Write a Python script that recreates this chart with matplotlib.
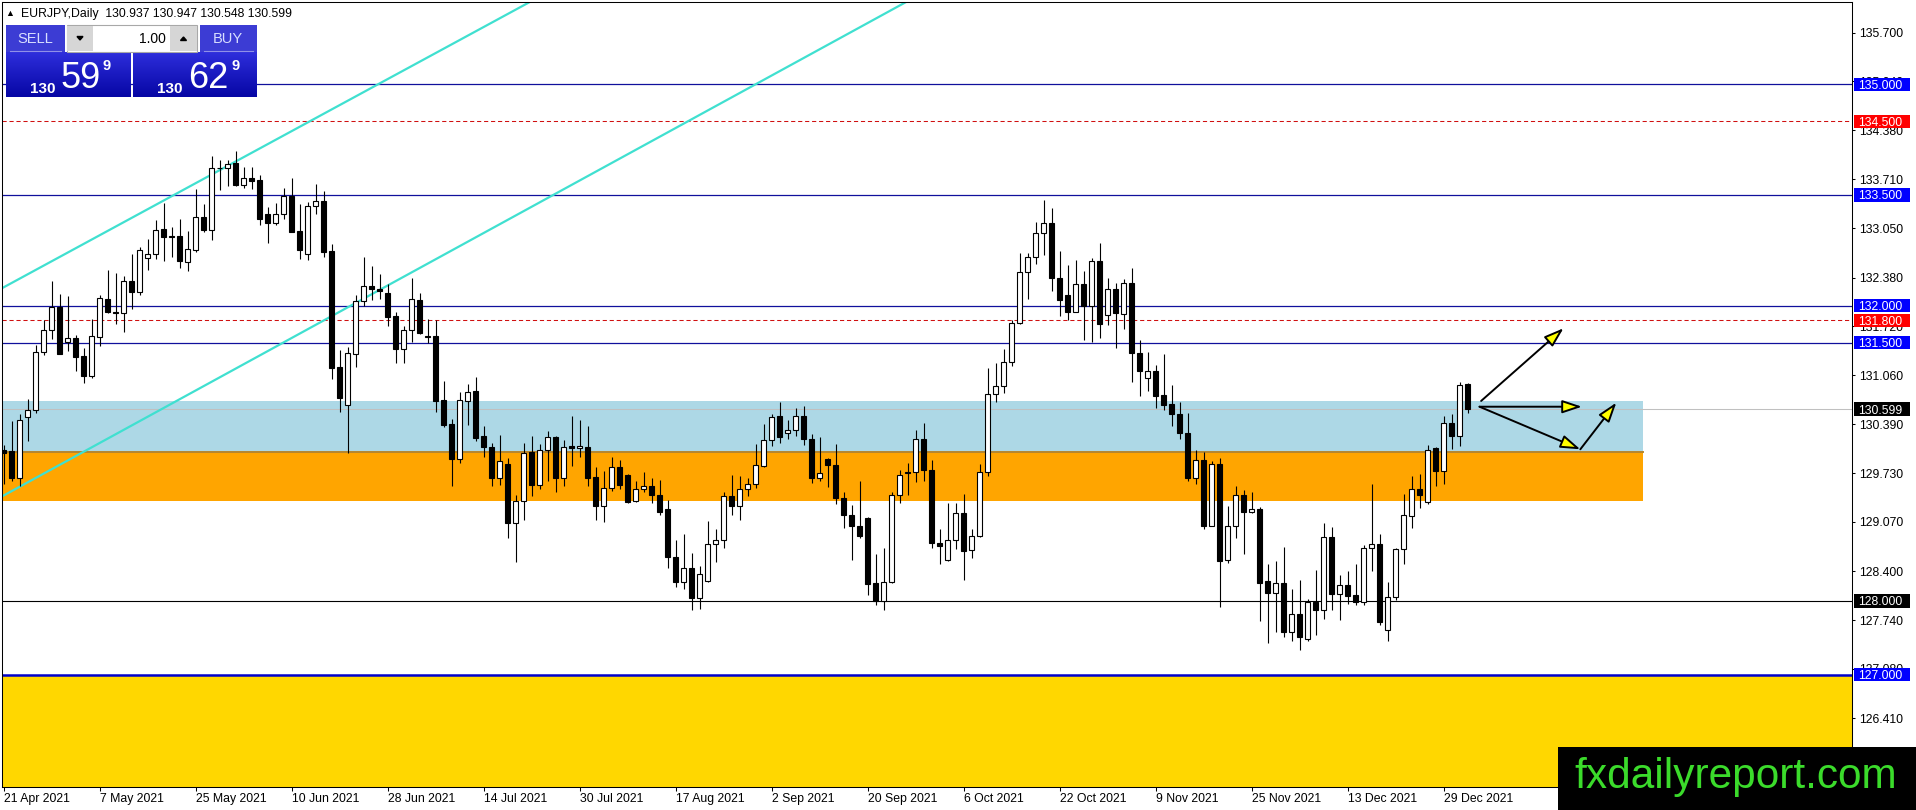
import numpy as np
import matplotlib
matplotlib.use("Agg")
import matplotlib.pyplot as plt
from matplotlib.patches import Rectangle, FancyArrowPatch, Polygon
from matplotlib.transforms import blended_transform_factory
from matplotlib.colors import LinearSegmentedColormap

plt.rcParams['font.family'] = ['Liberation Sans', 'DejaVu Sans']

symbol = "EURJPY,Daily"
date_labels = ['21 Apr 2021', '7 May 2021', '25 May 2021', '10 Jun 2021', '28 Jun 2021',
               '14 Jul 2021', '30 Jul 2021', '17 Aug 2021', '2 Sep 2021', '20 Sep 2021',
               '6 Oct 2021', '22 Oct 2021', '9 Nov 2021', '25 Nov 2021', '13 Dec 2021',
               '29 Dec 2021']

# daily candles (bar 0 = 21 Apr 2021)
opens = [130.05, 130.03, 129.66, 130.49, 130.58, 131.37, 131.67, 131.98, 131.51, 131.56,
         131.32, 131.05, 131.57, 132.09, 131.91, 131.90, 132.34, 132.19, 132.64, 132.70,
         133.04, 132.94, 132.94, 132.59, 132.76, 133.20, 133.02, 133.87, 133.86, 133.93,
         133.63, 133.73, 133.70, 133.24, 133.12, 133.24, 133.49, 133.01, 132.70, 133.35,
         133.42, 132.74, 131.17, 130.65, 131.34, 132.06, 132.27, 132.22, 132.17, 131.86,
         131.41, 131.67, 132.08, 131.59, 131.59, 130.72, 130.40, 129.92, 130.71, 130.84,
         130.23, 130.09, 129.67, 129.86, 129.06, 129.36, 130.02, 129.57, 130.05, 130.22,
         129.66, 130.10, 130.07, 130.08, 129.68, 129.28, 129.53, 129.81, 129.71, 129.35,
         129.52, 129.56, 129.44, 129.25, 128.59, 128.25, 128.45, 128.04, 128.27, 128.77,
         128.82, 129.42, 129.29, 129.51, 129.58, 129.83, 130.18, 130.50, 130.28, 130.32,
         130.50, 130.19, 129.66, 129.92, 129.84, 129.39, 129.16, 129.02, 129.12, 128.24,
         128.00, 128.25, 129.43, 129.74, 129.74, 130.20, 129.78, 128.79, 128.55, 128.83,
         129.19, 128.69, 128.88, 129.74, 130.81, 130.91, 131.24, 131.76, 132.45, 132.66,
         132.98, 133.12, 132.38, 132.14, 131.92, 132.30, 132.00, 132.60, 131.87, 132.22,
         131.89, 132.31, 131.36, 131.02, 131.12, 130.79, 130.67, 130.53, 130.28, 129.66,
         129.91, 129.02, 129.85, 128.56, 129.02, 129.43, 129.20, 129.24, 128.27, 128.11,
         128.24, 127.58, 127.82, 127.49, 127.99, 127.87, 128.86, 128.09, 128.22, 128.08,
         127.99, 128.71, 128.77, 127.61, 128.05, 128.70, 129.15, 129.51, 129.34, 130.07,
         129.76, 130.41, 130.24, 130.937]
highs = [130.11, 130.44, 130.53, 130.73, 131.47, 131.80, 132.34, 132.16, 132.13, 131.60,
         131.42, 131.82, 132.15, 132.49, 132.44, 132.40, 132.70, 132.80, 132.91, 133.16,
         133.39, 133.06, 133.17, 133.01, 133.58, 133.38, 134.03, 133.97, 133.98, 134.10,
         133.88, 133.88, 133.77, 133.34, 133.39, 133.59, 133.73, 133.38, 133.41, 133.65,
         133.55, 132.83, 131.40, 131.44, 132.15, 132.66, 132.54, 132.43, 132.30, 131.91,
         131.72, 132.38, 132.17, 131.82, 131.81, 130.98, 130.47, 130.83, 130.94, 131.03,
         130.37, 130.14, 130.25, 129.93, 129.43, 130.14, 130.24, 130.13, 130.30, 130.24,
         130.18, 130.50, 130.45, 130.37, 129.81, 129.76, 129.95, 129.91, 129.72, 129.63,
         129.75, 129.66, 129.64, 129.37, 128.83, 128.90, 128.65, 128.47, 129.08, 128.97,
         129.48, 129.70, 129.69, 129.66, 130.13, 130.40, 130.53, 130.70, 130.45, 130.61,
         130.64, 130.26, 130.22, 129.93, 130.13, 129.47, 129.30, 129.62, 129.13, 128.64,
         128.71, 129.48, 129.77, 129.87, 130.32, 130.41, 129.91, 128.98, 129.33, 129.33,
         129.45, 128.98, 129.85, 131.16, 131.23, 131.41, 131.81, 132.72, 132.72, 133.13,
         133.43, 133.32, 132.74, 132.55, 132.62, 132.47, 132.64, 132.85, 132.38, 132.31,
         132.36, 132.51, 131.53, 131.37, 131.19, 131.35, 130.93, 130.70, 130.54, 130.05,
         130.02, 129.90, 129.93, 129.28, 129.55, 129.50, 129.48, 129.27, 128.50, 128.54,
         128.73, 128.16, 128.28, 128.02, 128.42, 129.05, 129.00, 128.35, 128.40, 128.50,
         128.76, 129.58, 128.91, 128.25, 128.71, 129.45, 129.69, 129.72, 130.11, 130.09,
         130.50, 130.53, 130.97, 130.947]
lows = [129.59, 129.63, 129.56, 130.17, 130.54, 131.33, 131.55, 131.34, 131.39, 131.11,
        130.95, 131.02, 131.45, 131.90, 131.75, 131.64, 131.96, 132.14, 132.48, 132.63,
        132.60, 132.66, 132.51, 132.47, 132.73, 133.00, 132.89, 133.57, 133.62, 133.62,
        133.60, 133.58, 133.09, 132.85, 133.09, 133.17, 133.00, 132.63, 132.62, 133.24,
        132.66, 131.00, 130.56, 130.00, 131.17, 132.00, 132.08, 132.09, 131.72, 131.22,
        131.22, 131.51, 131.62, 131.49, 130.56, 130.35, 129.56, 129.87, 130.38, 130.16,
        129.95, 129.55, 129.57, 128.85, 128.53, 129.09, 129.42, 129.52, 129.62, 129.48,
        129.56, 129.83, 129.95, 129.55, 129.10, 129.07, 129.49, 129.52, 129.33, 129.34,
        129.47, 129.33, 129.17, 128.44, 128.19, 128.16, 127.87, 127.89, 128.25, 128.53,
        128.71, 129.17, 129.10, 129.42, 129.53, 129.81, 130.10, 130.14, 130.19, 130.23,
        130.11, 129.60, 129.63, 129.54, 129.31, 128.99, 128.55, 128.85, 128.08, 127.94,
        127.88, 128.24, 129.33, 129.43, 129.61, 129.62, 128.71, 128.50, 128.54, 128.70,
        128.28, 128.58, 128.86, 129.69, 130.69, 130.82, 131.18, 131.75, 132.09, 132.57,
        132.69, 132.20, 131.86, 131.81, 131.91, 131.53, 131.51, 131.56, 131.74, 131.42,
        131.69, 130.96, 130.78, 130.84, 130.62, 130.58, 130.37, 130.19, 129.62, 129.59,
        128.98, 129.01, 127.92, 128.51, 128.85, 128.64, 129.19, 127.73, 127.43, 127.58,
        127.51, 127.45, 127.33, 127.45, 127.54, 127.76, 127.88, 127.74, 127.96, 127.94,
        127.94, 128.40, 127.67, 127.46, 128.01, 128.50, 128.99, 129.26, 129.31, 129.55,
        129.59, 130.06, 130.10, 130.548]
closes = [130.01, 129.66, 130.45, 130.59, 131.37, 131.67, 131.98, 131.35, 131.56, 131.31,
          131.05, 131.59, 132.10, 131.91, 131.90, 132.34, 132.19, 132.76, 132.70, 133.03,
          132.93, 132.93, 132.60, 132.77, 133.20, 133.02, 133.86, 133.86, 133.92, 133.63,
          133.73, 133.69, 133.18, 133.12, 133.24, 133.49, 133.00, 132.76, 133.35, 133.42,
          132.73, 131.16, 130.75, 131.36, 132.06, 132.27, 132.23, 132.20, 131.84, 131.41,
          131.67, 132.09, 131.63, 131.57, 130.71, 130.38, 129.92, 130.72, 130.83, 130.21,
          130.08, 129.66, 129.90, 129.06, 129.36, 130.01, 129.57, 130.04, 130.22, 129.66,
          130.09, 130.07, 130.10, 129.67, 129.28, 129.53, 129.81, 129.57, 129.34, 129.51,
          129.56, 129.44, 129.21, 128.59, 128.25, 128.44, 128.04, 128.37, 128.77, 128.83,
          129.42, 129.29, 129.52, 129.58, 129.84, 130.18, 130.49, 130.22, 130.32, 130.50,
          130.19, 129.66, 129.73, 129.84, 129.39, 129.16, 129.02, 128.88, 128.23, 128.00,
          128.25, 129.43, 129.71, 129.73, 130.20, 129.78, 128.79, 128.75, 128.83, 129.19,
          128.68, 128.88, 129.75, 130.81, 130.91, 131.24, 131.76, 132.45, 132.66, 132.98,
          133.12, 132.38, 132.08, 131.92, 132.30, 132.00, 132.61, 131.75, 132.22, 131.90,
          132.31, 131.36, 131.12, 131.12, 130.78, 130.66, 130.53, 130.27, 129.66, 129.91,
          129.02, 129.86, 128.54, 129.02, 129.43, 129.20, 129.24, 128.24, 128.11, 128.24,
          127.58, 127.82, 127.51, 127.99, 127.87, 128.86, 128.09, 128.22, 128.07, 127.99,
          128.71, 128.77, 127.72, 128.05, 128.70, 129.16, 129.51, 129.43, 130.05, 129.76,
          130.41, 130.24, 130.93, 130.599]

ask_price = 130.629
lot_size = "1.00"

blue_levels = [135.0, 133.5, 132.0, 131.5]
red_levels = [134.5, 131.8]
black_level = 128.0
floor_level = 127.0
y_ticks = [135.700, 135.040, 134.380, 133.710, 133.050, 132.380, 131.720, 131.060,
           130.390, 129.730, 129.070, 128.400, 127.740, 127.080, 126.410]

# zones (price bounds), right end in bars
zone_blue = (130.022, 130.709)
zone_orange = (129.35, 130.022)
zone_end = 204.9

# channel anchors (bar, price)
upper_channel = [(0, 132.248), (60, 135.775)]
lower_channel = [(0, 129.427), (100, 135.355)]

# projection arrows (bar, price) start -> end
arrows = [((184.7, 130.709), (195.0, 131.694)),
          ((184.5, 130.631), (197.3, 130.631)),
          ((184.5, 130.631), (197.1, 130.054)),
          ((197.1, 130.054), (201.6, 130.686))]

W, H = 1916, 810
fig = plt.figure(figsize=(W / 100, H / 100), dpi=100)
ax = fig.add_axes([2 / W, (H - 786.7) / H, 1850 / W, 784.7 / H])
ax.set_xlim(-0.19, 231.06)
ax.set_ylim(125.482, 136.115)

# background zones
ax.add_patch(Rectangle((-5, zone_blue[0]), zone_end + 5, zone_blue[1] - zone_blue[0],
                       facecolor='#ADD8E6', lw=0, zorder=1))
ax.add_patch(Rectangle((-5, zone_orange[0]), zone_end + 5, zone_orange[1] - zone_orange[0],
                       facecolor='#FFA500', lw=0, zorder=1))
ax.plot([-5, zone_end], [zone_blue[0]] * 2, color='#B5862F', lw=1.4, zorder=1.1)
ax.add_patch(Rectangle((-5, 120), 300, floor_level - 120, facecolor='#FFD700', lw=0, zorder=1))

# horizontal levels
for lv in blue_levels:
    ax.axhline(lv, color='#10109C', lw=0.9, zorder=2)
for lv in red_levels:
    ax.axhline(lv, color='#D01010', lw=0.75, ls=(0, (4, 2.7)), zorder=2)
ax.axhline(closes[-1], color='#C0C0C0', lw=0.75, zorder=1.5)
ax.axhline(black_level, color='black', lw=0.8, zorder=2)
ax.axhline(floor_level, color='#0000CC', lw=1.8, zorder=2)

# channel
ax.axline(*upper_channel, color='#40E0D0', lw=1.6, zorder=2.2)
ax.axline(*lower_channel, color='#40E0D0', lw=1.6, zorder=2.2)

# candles
x = np.arange(len(opens))
ax.vlines(x, lows, highs, color='black', lw=0.8, zorder=3)
for i in x:
    o, c = opens[i], closes[i]
    ax.add_patch(Rectangle((i - 0.31, min(o, c)), 0.62, max(abs(c - o), 0.008),
                           facecolor='white' if c >= o else 'black',
                           edgecolor='black', lw=0.8, zorder=3.1))

# arrows
for a, b in arrows:
    ax.add_patch(FancyArrowPatch(a, b, arrowstyle='-|>,head_length=1.2,head_width=0.4',
                                 mutation_scale=10, facecolor='#FFFF00', edgecolor='black',
                                 lw=1.4, shrinkA=0, shrinkB=0, zorder=5))

# axes
ax.yaxis.tick_right()
ax.set_yticks(y_ticks)
ax.set_yticklabels([f'{v:.3f}' for v in y_ticks])
ax.tick_params(axis='y', length=2.5, width=0.75, pad=2.5, labelsize=8.8, colors='black')
ax.set_xticks(range(0, 12 * len(date_labels), 12))
ax.set_xticklabels(date_labels, ha='left')
ax.tick_params(axis='x', length=3, width=0.75, pad=1.5, labelsize=8.8, colors='black')
for s in ax.spines.values():
    s.set_linewidth(0.75)
    s.set_color('black')

# price boxes on the scale
tr = blended_transform_factory(fig.transFigure, ax.transData)


def price_box(level, color):
    ax.add_patch(Rectangle((1854 / W, level - 0.09), 56 / W, 0.18, transform=tr,
                           facecolor=color, edgecolor='none', clip_on=False, zorder=10))
    ax.text(1858.5 / W, level, f'{level:.3f}', transform=tr, color='white', fontsize=8.8,
            va='center_baseline', ha='left', clip_on=False, zorder=11)


for lv in blue_levels:
    price_box(lv, '#0000FF')
for lv in red_levels:
    price_box(lv, '#FF0000')
price_box(black_level, 'black')
price_box(floor_level, '#0000FF')
price_box(closes[-1], 'black')

# overlay: trade panel, header, watermark
ov = fig.add_axes([0, 0, 1, 1], zorder=20)
ov.axis('off')

grad = np.linspace(0, 1, 60).reshape(-1, 1)
cm = LinearSegmentedColormap.from_list('btn', ['#2E2EDC', '#0606A4'])
for x0, x1 in [(6, 130.7), (133.3, 256.7)]:
    ov.imshow(grad, extent=[x0, x1, 97, 52], cmap=cm, aspect='auto', zorder=1)
for x0, w in [(6, 59), (200, 56.7)]:
    ov.add_patch(Rectangle((x0, 25), w, 27, facecolor='#3C3CD4', lw=0, zorder=1))
    ov.plot([x0 + 4, x0 + w - 4], [51.3, 51.3], color='#9090E8', lw=0.8, zorder=2)
ov.add_patch(Rectangle((66.7, 25), 130.6, 26.7, facecolor='white', edgecolor='#A8A8A8',
                       lw=0.8, zorder=1))
ov.add_patch(Rectangle((67.5, 25.8), 25.5, 25.1, facecolor='#D6D6D6', lw=0, zorder=2))
ov.add_patch(Rectangle((170.5, 25.8), 26.2, 25.1, facecolor='#D6D6D6', lw=0, zorder=2))
ov.add_patch(Polygon([(77, 36.5), (83, 36.5), (80, 40)], color='black', zorder=3))
ov.add_patch(Polygon([(180.5, 40.5), (186.5, 40.5), (183.5, 37)], color='black', zorder=3))
ov.text(35.5, 39, 'SELL', fontsize=10.5, color='#D8DEFF', ha='center', va='center', zorder=4)
ov.text(228.3, 39, 'BUY', fontsize=10.5, color='#D8DEFF', ha='center', va='center', zorder=4)
ov.text(166, 39, lot_size, fontsize=10, color='black', ha='right', va='center', zorder=4)

for price, xs in [(closes[-1], (30, 61, 103)), (ask_price, (156.7, 188, 231.5))]:
    s = f'{price:.3f}'
    big, pips, point = s[:3], s[4:6], s[6]
    ov.text(xs[0], 93, big, fontsize=11, weight='bold', color='white', va='baseline', zorder=4)
    ov.text(xs[1], 88.5, pips, fontsize=26, color='white', va='baseline', zorder=4)
    ov.text(xs[2], 70, point, fontsize=10.5, weight='bold', color='white', va='baseline',
            zorder=4)

ov.text(5, 13.5, '\u25b2', fontsize=6.5, color='black', va='center', zorder=4)
ov.text(21.5, 13.5,
        f'{symbol}  {opens[-1]:.3f} {highs[-1]:.3f} {lows[-1]:.3f} {closes[-1]:.3f}',
        fontsize=8.8, color='black', va='center', zorder=4)

ov.add_patch(Rectangle((1558, 747), 358, 63, facecolor='black', lw=0, zorder=1))
ov.text(1736, 788, 'fxdailyreport.com', fontsize=30.5, color='#3BDB2B', ha='center',
        va='baseline', zorder=4)

ov.set_xlim(0, W)
ov.set_ylim(H, 0)

fig.savefig('out.png', dpi=100)
